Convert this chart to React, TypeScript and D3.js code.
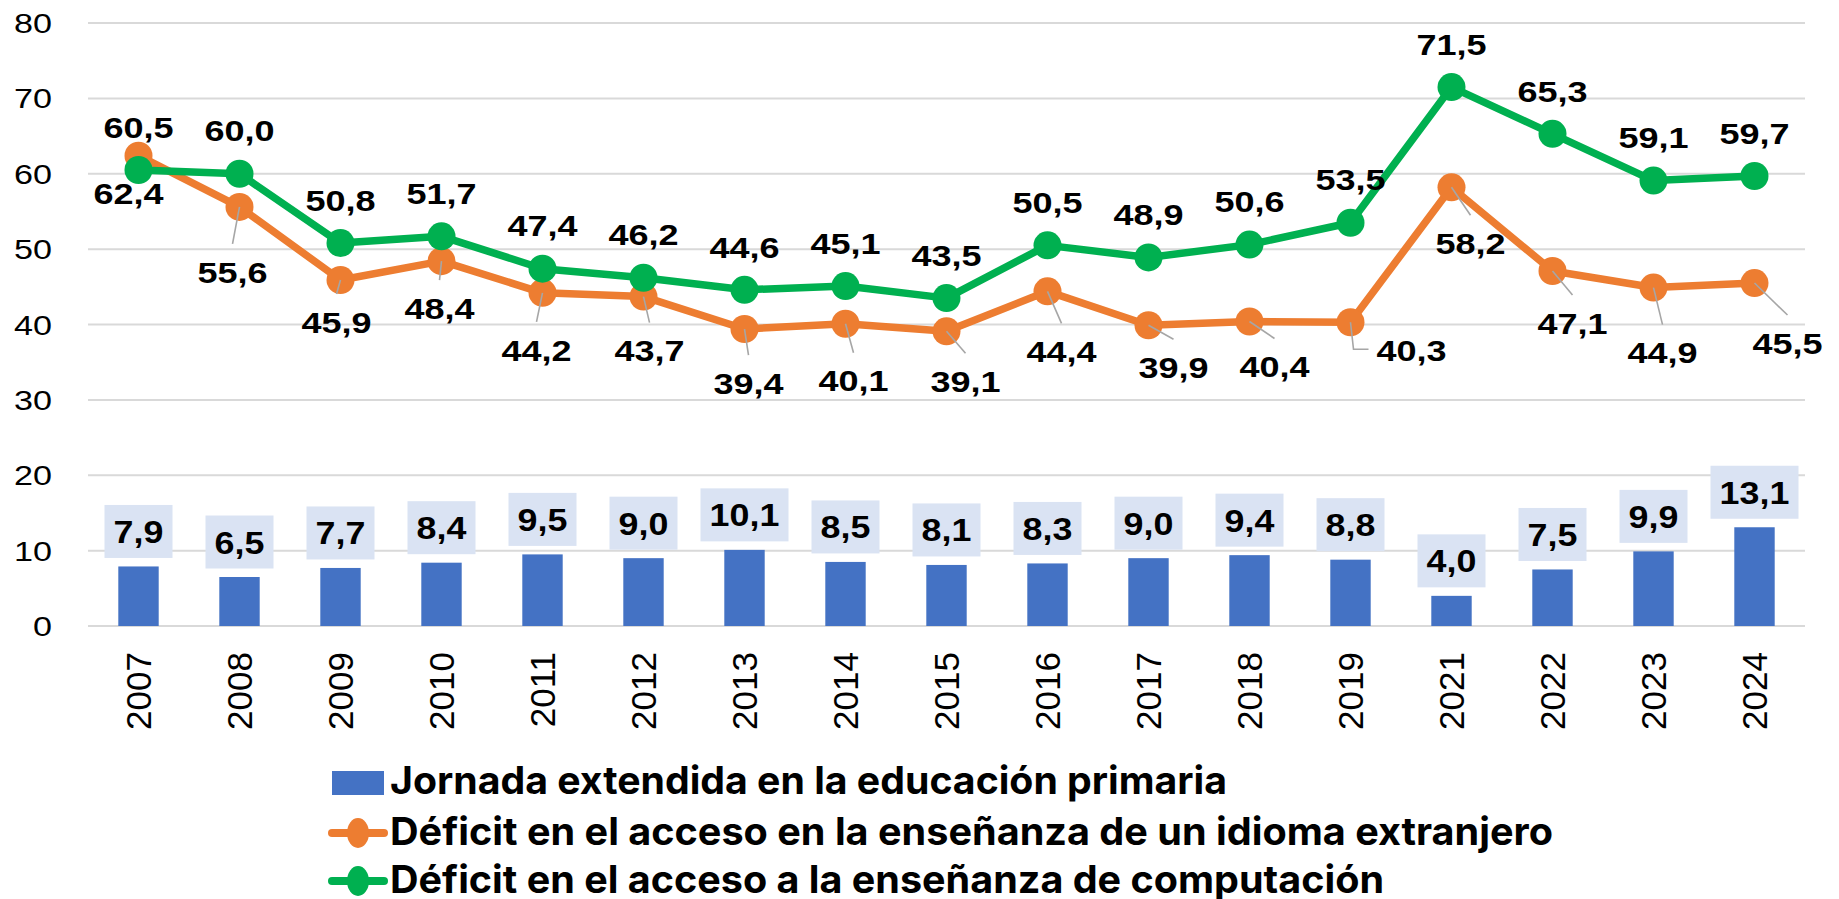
import React from 'react';
import * as d3 from 'd3';

const years = ['2007', '2008', '2009', '2010', '2011', '2012', '2013', '2014', '2015', '2016', '2017', '2018', '2019', '2021', '2022', '2023', '2024'];
const jornada = [7.9, 6.5, 7.7, 8.4, 9.5, 9.0, 10.1, 8.5, 8.1, 8.3, 9.0, 9.4, 8.8, 4.0, 7.5, 9.9, 13.1];
const idioma = [62.4, 55.6, 45.9, 48.4, 44.2, 43.7, 39.4, 40.1, 39.1, 44.4, 39.9, 40.4, 40.3, 58.2, 47.1, 44.9, 45.5];
const computacion = [60.5, 60.0, 50.8, 51.7, 47.4, 46.2, 44.6, 45.1, 43.5, 50.5, 48.9, 50.6, 53.5, 71.5, 65.3, 59.1, 59.7];
const yTicks = [0, 10, 20, 30, 40, 50, 60, 70, 80];

// label nudges for the orange series (Excel moved these by hand)
const idiomaLabelDx = [-10, -7, -4, -2, -6, 6, 4, 8, 19, 14, 25, 25, 61, 19, 20, 9, 33];
const idiomaLabelDy = [38, 65, 42, 47, 57, 54, 54, 57, 50, 60, 42, 45, 28, 56, 52, 65, 60];

const legendItems = [
    { name: 'Jornada extendida en la educación primaria', color: '#4472C4', type: 'bar', len: 837 },
    { name: 'Déficit en el acceso en la enseñanza de un idioma extranjero', color: '#ED7D31', type: 'line', len: 1163 },
    { name: 'Déficit en el acceso a la enseñanza de computación', color: '#00B050', type: 'line', len: 994 },
];

const W = 1839;
const H = 899;
const FONT = '"Liberation Sans", Arial, sans-serif';

const locale = d3.formatLocale({ decimal: ',', thousands: '.', grouping: [3], currency: ['', ''] });
const fmt = locale.format('.1f');

export default function App() {
    const x = d3.scaleBand().domain(years).range([88, 1805]).paddingInner(0.6).paddingOuter(0.3);
    const y = d3.scaleLinear().domain([0, 80]).range([626, 23]);
    const cx = (i) => x(years[i]) + x.bandwidth() / 2;

    const line = d3
        .line()
        .x((d, i) => cx(i))
        .y((d) => y(d));

    const lblText = (tx, ty, txt, size, sx) => (
        <text
            transform={`translate(${tx},${ty}) scale(${sx},1)`}
            textAnchor="middle"
            fontFamily={FONT}
            fontWeight="bold"
            fontSize={size}
            fill="#000"
        >
            {txt}
        </text>
    );

    return (
        <svg width={W} height={H} style={{ position: 'absolute', left: 0, top: 0, background: '#fff' }}>
            {yTicks.map((t) => (
                <g key={t}>
                    <line x1={88} x2={1805} y1={y(t)} y2={y(t)} stroke="#D9D9D9" strokeWidth={2} />
                    <text
                        transform={`translate(52,${y(t) + 10}) scale(1.22,1)`}
                        textAnchor="end"
                        fontFamily={FONT}
                        fontSize={28}
                        fill="#000"
                    >
                        {t}
                    </text>
                </g>
            ))}

            {jornada.map((v, i) => (
                <rect key={i} x={x(years[i])} y={y(v)} width={x.bandwidth()} height={y(0) - y(v)} fill="#4472C4" />
            ))}

            {jornada.map((v, i) => {
                const txt = fmt(v);
                const w = txt.length > 3 ? 88 : 68;
                const cy = y(v) - 35;
                return (
                    <g key={i}>
                        <rect x={cx(i) - w / 2} y={cy - 26.5} width={w} height={53} fill="#DAE3F3" />
                        {lblText(cx(i), cy + 11.5, txt, 32, 1.12)}
                    </g>
                );
            })}

            {years.map((yr, i) => (
                <text
                    key={yr}
                    transform={`translate(${cx(i) + 12.5},652) rotate(-90)`}
                    textAnchor="end"
                    fontFamily={FONT}
                    fontSize={35}
                    fill="#000"
                >
                    {yr}
                </text>
            ))}

            <path d={line(idioma)} fill="none" stroke="#ED7D31" strokeWidth={7.5} strokeLinejoin="round" />
            {idioma.map((v, i) => (
                <circle key={i} cx={cx(i)} cy={y(v)} r={14} fill="#ED7D31" />
            ))}

            <path d={line(computacion)} fill="none" stroke="#00B050" strokeWidth={7.5} strokeLinejoin="round" />
            {computacion.map((v, i) => (
                <circle key={i} cx={cx(i)} cy={y(v)} r={14} fill="#00B050" />
            ))}

            {/* leader lines */}
            {idioma.map((v, i) => {
                const mx = cx(i);
                const my = y(v);
                const lx = mx + idiomaLabelDx[i];
                const ly = my + idiomaLabelDy[i];
                if (idiomaLabelDx[i] > 45) {
                    const pts = [
                        [mx, my],
                        [mx + 3, ly - 1],
                        [lx - 43, ly - 1],
                    ];
                    return <polyline key={i} points={pts.join(' ')} fill="none" stroke="#A6A6A6" strokeWidth={1.6} />;
                }
                if (idiomaLabelDy[i] - 28 < 12) return null;
                return <line key={i} x1={mx} y1={my} x2={lx} y2={ly - 28} stroke="#A6A6A6" strokeWidth={1.6} />;
            })}

            {idioma.map((v, i) => (
                <g key={i}>{lblText(cx(i) + idiomaLabelDx[i], y(v) + idiomaLabelDy[i] + 10.7, fmt(v), 30, 1.2)}</g>
            ))}
            {computacion.map((v, i) => (
                <g key={i}>{lblText(cx(i), y(v) - 43 + 10.7, fmt(v), 30, 1.2)}</g>
            ))}

            {legendItems.map((it, i) => {
                const base = [794, 845, 893][i];
                const my = base - 12;
                return (
                    <g key={it.name}>
                        {it.type === 'bar' ? (
                            <rect x={332} y={771} width={52} height={24} fill={it.color} />
                        ) : (
                            <g>
                                <line x1={332} x2={384} y1={my} y2={my} stroke={it.color} strokeWidth={8} strokeLinecap="round" />
                                <ellipse cx={358} cy={my} rx={11} ry={15} fill={it.color} />
                            </g>
                        )}
                        <text
                            x={390}
                            y={base}
                            fontFamily='Inter, "Liberation Sans", Arial, sans-serif'
                            fontWeight="bold"
                            fontSize={38}
                            textLength={it.len}
                            lengthAdjust="spacingAndGlyphs"
                            fill="#000"
                        >
                            {it.name}
                        </text>
                    </g>
                );
            })}
        </svg>
    );
}
